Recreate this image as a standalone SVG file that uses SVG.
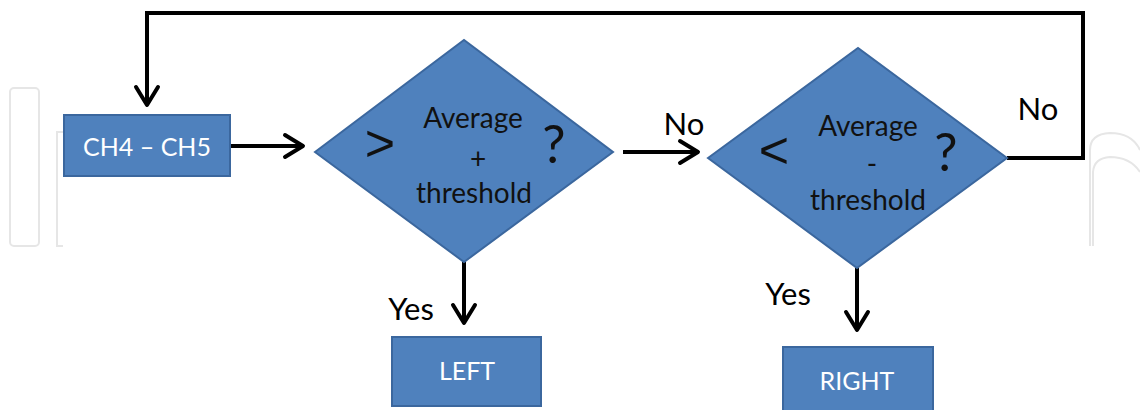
<svg xmlns="http://www.w3.org/2000/svg" width="1140" height="410" viewBox="0 0 1140 410">
  <style>
    .shape { fill: #4F81BD; stroke: #3B679E; stroke-width: 2; }
    .conn { fill: none; stroke: #000; stroke-width: 4; stroke-linejoin: miter; }
    .wm { fill: none; stroke: #e6e6e6; stroke-width: 2; }
    .white { font-family: Lato, "Liberation Sans", sans-serif; fill: #ffffff; text-anchor: middle; }
    .dark { font-family: Lato, "Liberation Sans", sans-serif; fill: #111111; text-anchor: middle; }
    .sym { font-family: "Liberation Sans", sans-serif; fill: #111111; text-anchor: middle; }
    .lbl { font-family: Lato, "Liberation Sans", sans-serif; fill: #000000; text-anchor: middle; font-size: 31px; }
  </style>
  <defs>
    <marker id="arrow" markerUnits="userSpaceOnUse" viewBox="0 0 26 26" markerWidth="26" markerHeight="26" refX="21" refY="13" orient="auto" overflow="visible">
      <path d="M3,2 L21,13 L3,24" fill="none" stroke="#000" stroke-width="4" stroke-linejoin="round" stroke-linecap="round"/>
    </marker>
  </defs>
  <rect width="1140" height="410" fill="#ffffff"/>

  <g id="watermark">
    <rect class="wm" x="10" y="88" width="29" height="158" rx="4"/>
    <path class="wm" d="M63,132 L57,132 L57,246 L63,246"/>
    <path class="wm" d="M1090,246 L1090,150 Q1090,134 1110,133 Q1132,133 1140,150"/>
    <path class="wm" d="M1093,246 L1093,172 Q1094,158 1110,157 Q1130,157 1140,172"/>
  </g>

  <g id="connectors">
    <line class="conn" x1="230" y1="146" x2="303" y2="146" marker-end="url(#arrow)"/>
    <line class="conn" x1="623" y1="152" x2="698" y2="152" marker-end="url(#arrow)"/>
    <line class="conn" x1="464" y1="262" x2="464" y2="323" marker-end="url(#arrow)"/>
    <line class="conn" x1="857" y1="268" x2="857" y2="330" marker-end="url(#arrow)"/>
    <polyline class="conn" points="1007,158 1083,158 1083,13 147,13 147,105" marker-end="url(#arrow)"/>
    <text class="lbl" x="684" y="135">No</text>
    <text class="lbl" x="1038" y="120">No</text>
    <text class="lbl" x="411" y="320">Yes</text>
    <text class="lbl" x="788" y="305">Yes</text>
  </g>

  <g id="node-ch4ch5">
    <rect class="shape" x="64" y="115" width="166" height="61"/>
    <text class="white" x="147" y="156" font-size="25">CH4 – CH5</text>
  </g>

  <g id="node-decision1">
    <polygon class="shape" points="315,152 464,40 613,152 464,262"/>
    <text class="sym" x="380" y="161" font-size="52">&gt;</text>
    <text class="dark" x="473" y="128" font-size="28">Average</text>
    <text class="dark" x="478" y="169" font-size="28">+</text>
    <text class="dark" x="474" y="203" font-size="28">threshold</text>
    <text class="dark" x="554" y="163" font-size="52">?</text>
  </g>

  <g id="node-decision2">
    <polygon class="shape" points="708,158 858,48 1007,158 857,268"/>
    <text class="sym" x="774" y="168" font-size="52">&lt;</text>
    <text class="dark" x="868" y="136" font-size="28">Average</text>
    <text class="dark" x="872" y="174" font-size="28">-</text>
    <text class="dark" x="868" y="210" font-size="28">threshold</text>
    <text class="dark" x="946" y="171" font-size="52">?</text>
  </g>

  <g id="node-left">
    <rect class="shape" x="392" y="337" width="149" height="69"/>
    <text class="white" x="467" y="380" font-size="25">LEFT</text>
  </g>

  <g id="node-right">
    <rect class="shape" x="783" y="347" width="150" height="69"/>
    <text class="white" x="857" y="390" font-size="25">RIGHT</text>
  </g>
</svg>
